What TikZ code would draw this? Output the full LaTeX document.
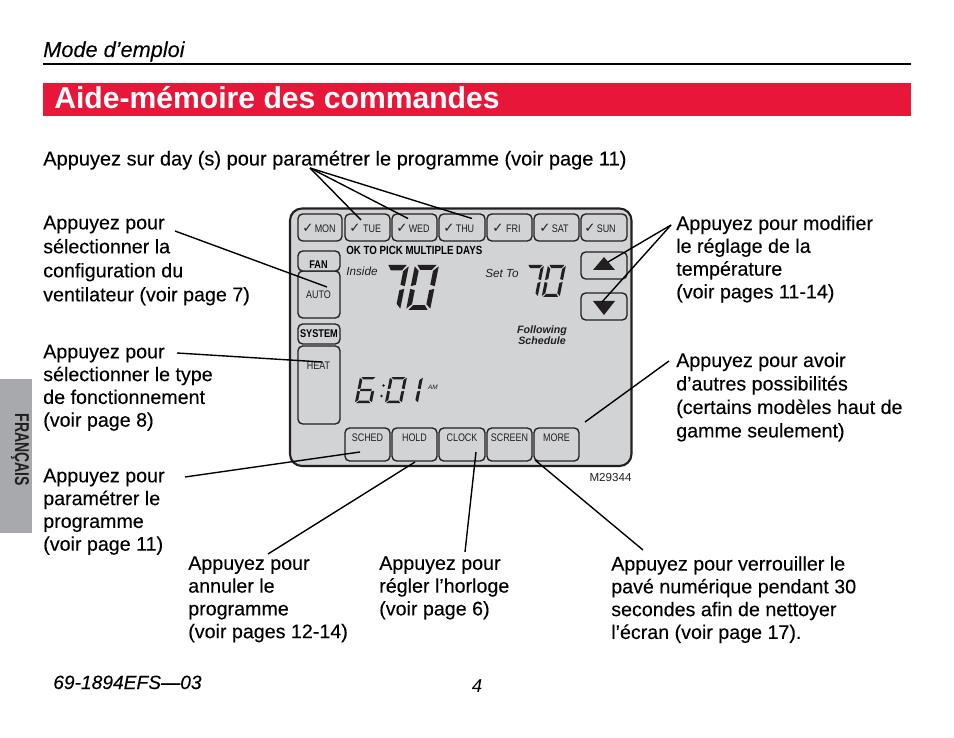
\documentclass[tikz,border=0pt]{standalone}
\usepackage{fontspec}
\setmainfont{Liberation Sans}
\newfontfamily\bodyf[FakeBold=0.15]{Liberation Sans}
\newfontfamily\narrowf[FakeStretch=0.82]{Liberation Sans}
\newfontfamily\tabf[FakeStretch=0.7]{Liberation Sans}
\newfontfamily\symf{DejaVu Sans}
\definecolor{panelgray}{HTML}{D1D3D4}
\definecolor{tabgray}{HTML}{A7A9AC}
\definecolor{barred}{HTML}{E8173A}
\definecolor{ink}{HTML}{231F20}
\def\sega{(0.5*\tx,0)--(1-0.5*\tx,0)--(1-1.3*\tx,\ty)--(1.3*\tx,\ty)--cycle}
\def\segb{(1,0.03)--(1,0.47)--(1-\tx,0.44)--(1-\tx,\ty+0.02)--cycle}
\def\segc{(1,0.53)--(1,0.97)--(1-\tx,1-\ty-0.02)--(1-\tx,0.56)--cycle}
\def\segd{(0.5*\tx,1)--(1-0.5*\tx,1)--(1-1.3*\tx,1-\ty)--(1.3*\tx,1-\ty)--cycle}
\def\sege{(0,0.53)--(0,0.97)--(\tx,1-\ty-0.02)--(\tx,0.56)--cycle}
\def\segf{(0,0.03)--(0,0.47)--(\tx,0.44)--(\tx,\ty+0.02)--cycle}
\def\segg{(\tx,0.5-\ty/2)--(1-\tx,0.5-\ty/2)--(1-\tx,0.5+\ty/2)--(\tx,0.5+\ty/2)--cycle}
% x, y, w, h, tx, ty, segments
\newcommand\sevenseg[7]{%
  \begin{scope}[shift={(#1,#2)},xslant=0.2,xscale=#3,yscale=#4]
    \def\tx{#5}\def\ty{#6}%
    \foreach \s in {#7}{\fill[ink] \csname seg\s\endcsname;}
  \end{scope}}
\tikzset{
  callout/.style={anchor=north west,align=left,inner sep=0pt,text=black,
    font=\fontsize{14.75}{#1}\selectfont\bodyf},
  callout/.default=17.2,
  btn/.style={draw=ink,line width=1pt,rounded corners=3.5pt,fill=panelgray},
  daylabel/.style={inner sep=0pt,text=ink,font=\fontsize{8.2}{9}\selectfont\narrowf},
  keylabel/.style={inner sep=0pt,text=ink,font=\fontsize{8.2}{9}\selectfont\narrowf},
  boldkey/.style={inner sep=0pt,text=black,font=\fontsize{8.4}{9}\selectfont\narrowf\bfseries},
  leader/.style={draw=black,line width=1.05pt},
  tri/.style={fill=ink,draw=none},
}
\newcommand\daybtn[5]{% name, x1, x2, text offset, text
  \path[btn] (#2,214) rectangle (#3,241);
  \node[daylabel,anchor=west] (#1) at (#2+#4,228) {{\symf\fontsize{10}{9}\selectfont ✓}\hspace{1pt}#5};}
\begin{document}
\begin{tikzpicture}[x=0.75pt,y=-0.75pt]
\useasboundingbox[fill=white] (0,0) rectangle (954,738);
% header
\node[anchor=base west,inner sep=0pt,font=\fontsize{16.3}{17}\selectfont\itshape\bodyf] (mode) at (43,57) {Mode d’emploi};
\coordinate (ruleL) at (43,64.5);
\coordinate (ruleR) at (911,64.5);
\draw[black,line width=1.5pt] (ruleL) -- (ruleR);
\fill[barred] (43,83) rectangle (911,116);
\node[anchor=base west,inner sep=0pt,text=white,font=\fontsize{22.6}{24}\selectfont\bfseries] (title) at (54,108.5) {Aide-mémoire des commandes};
% side tab
\fill[tabgray] (0,379) rectangle (32,533);
\node[rotate=-90,inner sep=0pt,font=\fontsize{15}{14}\selectfont\bfseries\tabf,text=ink] (tab) at (20,450) {FRANÇAIS};
% panel
\path[draw=ink,line width=1.6pt,fill=panelgray,rounded corners=9pt] (290,208.5) rectangle (631.5,466);
% day buttons
\daybtn{mon}{298}{342}{4}{MON}
\daybtn{tue}{345}{390}{4}{\hspace{1pt}TUE}
\daybtn{wed}{392}{437}{4}{WED}
\daybtn{thu}{439}{485}{4}{THU}
\daybtn{fri}{487}{532}{5}{\hspace{1pt}FRI}
\daybtn{sat}{534}{579}{5}{SAT}
\daybtn{sun}{581}{627}{3}{SUN}
\node[boldkey,anchor=west,font=\fontsize{8.9}{9}\selectfont\narrowf\bfseries] (okpick) at (346,250.5) {OK TO PICK MULTIPLE DAYS};
% fan / system
\path[btn] (298,271) rectangle (340,318);
\path[btn] (298,251) rectangle (340,271);
\node[boldkey] (fan) at (318.5,264.5) {FAN};
\node[keylabel] (auto) at (318.5,294.5) {AUTO};
\path[btn] (298,346) rectangle (340,424);
\path[btn] (298,324) rectangle (340,344);
\node[boldkey] (system) at (319,334) {SYSTEM};
\node[keylabel] (heat) at (318.5,365.5) {HEAT};
% up/down
\path[btn] (581,252) rectangle (627,279);
\path[tri] (593,270) -- (604,257) -- (615,270) -- cycle;
\path[btn] (581,293) rectangle (627,320);
\path[tri] (593,301) -- (615,301) -- (604,315) -- cycle;
% bottom buttons
\foreach \a/\b/\t in {345/390/SCHED,392/437/HOLD,439/485/CLOCK,487/532/SCREEN,534/579/MORE}{
  \path[btn] (\a,428) rectangle (\b,461);
  \node[keylabel] at ({(\a+\b)/2},438) {\t};
}
% display
\node[anchor=base west,inner sep=0pt,text=ink,font=\fontsize{8.8}{9}\selectfont\itshape] (inside) at (346,275.5) {Inside};
\node[anchor=base west,inner sep=0pt,text=ink,font=\fontsize{8.8}{9}\selectfont\itshape] (setto) at (485,277.5) {Set To};
\sevenseg{386}{265}{23}{45}{0.2}{0.12}{a,b,c}
\sevenseg{415}{265}{24}{45}{0.2}{0.11}{a,b,c,d,e,f}
\sevenseg{527}{265}{17}{32}{0.17}{0.1}{a,b,c}
\sevenseg{548}{265}{18}{32}{0.17}{0.1}{a,b,c,d,e,f}
\sevenseg{360}{377}{17}{26}{0.17}{0.09}{a,c,d,e,f,g}
\sevenseg{390}{377}{17}{26}{0.17}{0.09}{a,b,c,d,e,f}
\sevenseg{412}{377}{11}{26}{0.27}{0.09}{b,c}
\fill[ink] (383.5,385.5) circle (1.3) (381.5,396) circle (1.3);
\node[inner sep=0pt,text=ink,font=\fontsize{4.8}{6}\selectfont\itshape] (am) at (433,387) {AM};
\node[inner sep=0pt,align=center,text=ink,font=\fontsize{8}{8.4}\selectfont\bfseries\itshape] (follow) at (542,335) {Following\\Schedule};
\node[inner sep=0pt,text=ink,font=\fontsize{8.7}{10}\selectfont] (m) at (610.5,478) {M29344};
% texts
\node[callout,font=\fontsize{15}{17}\selectfont\bodyf] (t0) at (43,150.5) {Appuyez sur day (s) pour paramétrer le programme (voir page 11)};
\node[callout=18] (t1) at (43,215.5) {Appuyez pour\\sélectionner la\\configuration du\\ventilateur (voir page 7)};
\node[callout=17.1] (t2) at (43,344.5) {Appuyez pour\\sélectionner le type\\de fonctionnement\\(voir page 8)};
\node[callout=17.1] (t3) at (43,468.5) {Appuyez pour\\paramétrer le\\programme\\(voir page 11)};
\node[callout=17.1] (t4) at (188,556) {Appuyez pour\\annuler le\\programme\\(voir pages 12-14)};
\node[callout=17.1] (t5) at (379,556) {Appuyez pour\\régler l’horloge\\(voir page 6)};
\node[callout=17.1] (t6) at (611,556) {Appuyez pour verrouiller le\\pavé numérique pendant 30\\secondes afin de nettoyer\\l’écran (voir page 17).};
\node[callout=17.1] (t7) at (676,215.5) {Appuyez pour modifier\\le réglage de la\\température\\(voir pages 11-14)};
\node[callout=17.6] (t8) at (676,352.5) {Appuyez pour avoir\\d’autres possibilités\\(certains modèles haut de\\gamme seulement)};
\node[anchor=base west,inner sep=0pt,font=\fontsize{14.4}{17}\selectfont\itshape\bodyf] (doc) at (53,689) {69-1894EFS—03};
\node[anchor=base,inner sep=0pt,font=\fontsize{14}{17}\selectfont\itshape] (pg) at (477,692) {4};
% leader ends
\coordinate (s0) at (310,168);
\coordinate (e0a) at (361,220);
\coordinate (e0b) at (408,218.5);
\coordinate (e0c) at (472,218.5);
\coordinate (s1) at (175,231);
\coordinate (e1) at (327,287);
\coordinate (s2) at (177,353);
\coordinate (e2) at (322,362);
\coordinate (s3) at (185,477);
\coordinate (e3) at (360,452);
\coordinate (s4) at (268,554);
\coordinate (e4) at (415,462);
\coordinate (s5) at (465,552);
\coordinate (e5) at (476,452);
\coordinate (s6) at (643,550);
\coordinate (e6) at (535,460);
\coordinate (s8) at (669,361);
\coordinate (e8) at (585,422);
\coordinate (s7) at (671,225);
\coordinate (e7a) at (608,262);
\coordinate (e7b) at (602,302);
\foreach \a/\b in {s0/e0a,s0/e0b,s0/e0c,s1/e1,s2/e2,s3/e3,s4/e4,s5/e5,s6/e6,s8/e8,s7/e7a,s7/e7b}
  \draw[leader] (\a) -- (\b);
\end{tikzpicture}
\end{document}
